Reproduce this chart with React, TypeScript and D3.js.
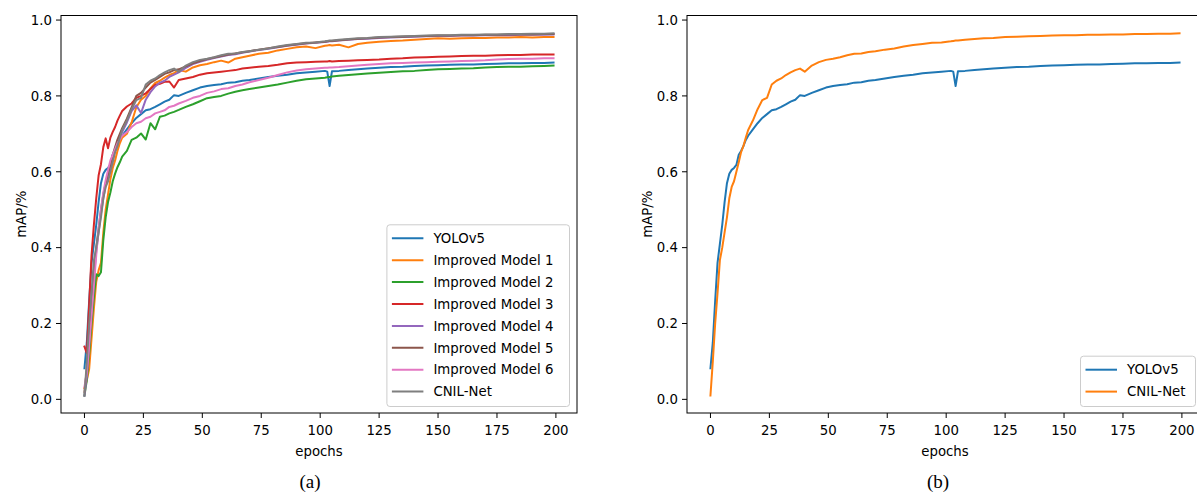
import React from 'react';
import * as d3 from 'd3';

// epochs where the curves were sampled
const epochs = [0, 1, 2, 3, 4, 5, 6, 7, 8, 9, 10, 11, 12, 13, 14, 15, 16, 18, 20, 22,
  24, 26, 28, 30, 32, 34, 36, 38, 40, 43, 46, 49, 52, 55, 58, 61, 64, 67, 70, 74,
  78, 82, 86, 90, 94, 98, 102, 103, 104, 105, 108, 112, 116, 120, 125, 130, 135, 140, 145, 150,
  155, 160, 165, 170, 175, 180, 185, 190, 195, 199];

const yolov5 = [0.082, 0.15, 0.26, 0.36, 0.41, 0.46, 0.52, 0.57, 0.595, 0.605,
  0.61, 0.618, 0.645, 0.655, 0.668, 0.684, 0.695, 0.712, 0.728, 0.742,
  0.752, 0.762, 0.765, 0.771, 0.778, 0.785, 0.79, 0.802, 0.8, 0.808,
  0.815, 0.822, 0.826, 0.829, 0.831, 0.835, 0.836, 0.84, 0.842, 0.846,
  0.85, 0.853, 0.856, 0.86, 0.862, 0.864, 0.866, 0.864, 0.826, 0.865,
  0.866, 0.868, 0.87, 0.872, 0.874, 0.876, 0.877, 0.879, 0.88, 0.881,
  0.882, 0.883, 0.883, 0.884, 0.885, 0.886, 0.886, 0.887, 0.887, 0.888];

const model1 = [0.03, 0.05, 0.08, 0.16, 0.24, 0.31, 0.34, 0.36, 0.44, 0.5,
  0.54, 0.58, 0.61, 0.63, 0.655, 0.675, 0.69, 0.7, 0.73, 0.77,
  0.79, 0.8, 0.82, 0.834, 0.84, 0.848, 0.855, 0.86, 0.868, 0.864,
  0.875, 0.881, 0.884, 0.889, 0.893, 0.888, 0.898, 0.902, 0.906, 0.911,
  0.914, 0.92, 0.924, 0.928, 0.93, 0.926, 0.932, 0.933, 0.934, 0.933,
  0.935, 0.928, 0.937, 0.94, 0.943, 0.945, 0.946, 0.948, 0.95, 0.952,
  0.951, 0.952, 0.953, 0.953, 0.954, 0.954, 0.955, 0.954, 0.955, 0.955];

const model2 = [0.01, 0.05, 0.12, 0.2, 0.27, 0.33, 0.325, 0.335, 0.42, 0.48,
  0.52, 0.545, 0.575, 0.595, 0.612, 0.625, 0.64, 0.655, 0.684, 0.69,
  0.701, 0.685, 0.728, 0.712, 0.745, 0.748, 0.754, 0.758, 0.763, 0.771,
  0.778, 0.786, 0.794, 0.797, 0.8, 0.806, 0.811, 0.815, 0.818, 0.822,
  0.826, 0.83, 0.835, 0.84, 0.844, 0.846, 0.848, 0.849, 0.85, 0.851,
  0.853, 0.855, 0.857, 0.859, 0.861, 0.863, 0.865, 0.866, 0.868, 0.87,
  0.871, 0.872, 0.873, 0.875, 0.876, 0.877, 0.877, 0.878, 0.879, 0.88];

const model3 = [0.139, 0.122, 0.25, 0.38, 0.46, 0.53, 0.59, 0.62, 0.665, 0.688,
  0.662, 0.69, 0.705, 0.718, 0.735, 0.748, 0.76, 0.772, 0.78, 0.795,
  0.8, 0.807, 0.818, 0.829, 0.832, 0.837, 0.838, 0.822, 0.842, 0.846,
  0.85, 0.856, 0.86, 0.862, 0.864, 0.866, 0.868, 0.872, 0.874, 0.877,
  0.879, 0.882, 0.886, 0.888, 0.889, 0.89, 0.891, 0.891, 0.892, 0.891,
  0.892, 0.893, 0.894, 0.895, 0.896, 0.898, 0.899, 0.901, 0.902, 0.903,
  0.904, 0.905, 0.906, 0.906, 0.907, 0.908, 0.908, 0.909, 0.909, 0.909];

const model4 = [0.01, 0.06, 0.15, 0.24, 0.32, 0.39, 0.44, 0.49, 0.53, 0.565,
  0.59, 0.615, 0.635, 0.655, 0.675, 0.69, 0.705, 0.73, 0.76, 0.775,
  0.755, 0.79, 0.81, 0.825, 0.835, 0.84, 0.85, 0.856, 0.862, 0.874,
  0.884, 0.89, 0.895, 0.9, 0.904, 0.908, 0.91, 0.914, 0.917, 0.921,
  0.924, 0.928, 0.932, 0.935, 0.938, 0.94, 0.942, 0.943, 0.944, 0.944,
  0.946, 0.948, 0.95, 0.951, 0.953, 0.954, 0.955, 0.956, 0.957, 0.958,
  0.958, 0.959, 0.959, 0.96, 0.96, 0.96, 0.961, 0.961, 0.961, 0.962];

const model5 = [0.02, 0.08, 0.17, 0.26, 0.34, 0.4, 0.45, 0.5, 0.54, 0.57,
  0.595, 0.62, 0.645, 0.665, 0.685, 0.7, 0.715, 0.74, 0.77, 0.8,
  0.808, 0.822, 0.835, 0.842, 0.85, 0.858, 0.862, 0.868, 0.87, 0.878,
  0.886, 0.892, 0.897, 0.901, 0.905, 0.909, 0.912, 0.915, 0.918, 0.922,
  0.926, 0.929, 0.933, 0.936, 0.939, 0.941, 0.943, 0.944, 0.945, 0.945,
  0.947, 0.949, 0.951, 0.952, 0.954, 0.955, 0.956, 0.957, 0.958, 0.959,
  0.959, 0.96, 0.96, 0.961, 0.961, 0.962, 0.962, 0.962, 0.963, 0.963];

const model6 = [0.033, 0.07, 0.14, 0.22, 0.3, 0.38, 0.45, 0.5, 0.545, 0.578,
  0.605, 0.63, 0.645, 0.66, 0.675, 0.685, 0.695, 0.705, 0.718, 0.728,
  0.732, 0.741, 0.745, 0.754, 0.758, 0.762, 0.771, 0.774, 0.78, 0.787,
  0.795, 0.8, 0.808, 0.812, 0.818, 0.82, 0.826, 0.83, 0.836, 0.842,
  0.848, 0.855, 0.862, 0.867, 0.87, 0.872, 0.874, 0.874, 0.875, 0.875,
  0.876, 0.878, 0.88, 0.882, 0.884, 0.886, 0.887, 0.888, 0.889, 0.89,
  0.891, 0.892, 0.893, 0.894, 0.896, 0.897, 0.898, 0.898, 0.899, 0.899];

const cnilNet = [0.01, 0.1, 0.2, 0.28, 0.367, 0.4, 0.44, 0.48, 0.53, 0.56,
  0.575, 0.6, 0.625, 0.652, 0.668, 0.69, 0.71, 0.735, 0.765, 0.789,
  0.795, 0.83, 0.84, 0.846, 0.855, 0.862, 0.868, 0.872, 0.864, 0.88,
  0.889, 0.895, 0.898, 0.902, 0.907, 0.911, 0.912, 0.916, 0.918, 0.922,
  0.925, 0.93, 0.934, 0.937, 0.94, 0.941, 0.944, 0.945, 0.946, 0.946,
  0.948, 0.95, 0.952, 0.953, 0.955, 0.956, 0.957, 0.958, 0.959, 0.96,
  0.96, 0.961, 0.961, 0.962, 0.962, 0.963, 0.963, 0.964, 0.964, 0.965];

const xTicks = [0, 25, 50, 75, 100, 125, 150, 175, 200];
const yTicks = [0.0, 0.2, 0.4, 0.6, 0.8, 1.0];

const seriesA = [
  { name: 'YOLOv5', color: '#1f77b4', values: yolov5 },
  { name: 'Improved Model 1', color: '#ff7f0e', values: model1 },
  { name: 'Improved Model 2', color: '#2ca02c', values: model2 },
  { name: 'Improved Model 3', color: '#d62728', values: model3 },
  { name: 'Improved Model 4', color: '#9467bd', values: model4 },
  { name: 'Improved Model 5', color: '#8c564b', values: model5 },
  { name: 'Improved Model 6', color: '#e377c2', values: model6 },
  { name: 'CNIL-Net', color: '#7f7f7f', values: cnilNet },
];

const seriesB = [
  { name: 'YOLOv5', color: '#1f77b4', values: yolov5 },
  { name: 'CNIL-Net', color: '#ff7f0e', values: cnilNet },
];

const FONT = '"DejaVu Sans", sans-serif';

function Panel({ id, left, right, top, bottom, series, legendWidth, caption }) {
  const x = d3.scaleLinear().domain([-9.95, 208.95]).range([left, right]);
  const y = d3.scaleLinear().domain([-0.036, 1.012]).range([bottom, top]);
  const line = d3.line<number>()
    .x((_, i) => x(epochs[i]))
    .y(d => y(d));
  const fmt = d3.format('.1f');

  const rowH = 21.9;
  const legRight = right - 7.5;
  const legBottom = bottom - 6.5;
  const legH = series.length * rowH + 6.5;
  const legTop = legBottom - legH;
  const legLeft = legRight - legendWidth;

  return (
    <g>
      <defs>
        <clipPath id={`clip-${id}`}>
          <rect x={left} y={top} width={right - left} height={bottom - top} />
        </clipPath>
      </defs>
      <g clipPath={`url(#clip-${id})`}>
        {series.map(s => (
          <path key={s.name} d={line(s.values) || ''} fill="none" stroke={s.color}
            strokeWidth={2} strokeLinejoin="round" strokeLinecap="square" />
        ))}
      </g>
      <rect x={left} y={top} width={right - left} height={bottom - top}
        fill="none" stroke="#000" strokeWidth={1} />
      {xTicks.map(t => (
        <g key={t}>
          <line x1={x(t)} x2={x(t)} y1={bottom} y2={bottom + 5} stroke="#000" strokeWidth={1} />
          <text x={x(t)} y={bottom + 22} textAnchor="middle" fontSize={13.3}
            fontFamily={FONT} fill="#000">{t}</text>
        </g>
      ))}
      {yTicks.map(t => (
        <g key={t}>
          <line x1={left - 5} x2={left} y1={y(t)} y2={y(t)} stroke="#000" strokeWidth={1} />
          <text x={left - 9} y={y(t)} dy="0.36em" textAnchor="end" fontSize={13.3}
            fontFamily={FONT} fill="#000">{fmt(t)}</text>
        </g>
      ))}
      <text x={(left + right) / 2} y={bottom + 43} textAnchor="middle" fontSize={13.3}
        fontFamily={FONT} fill="#000">epochs</text>
      <text transform={`translate(${left - 40},${(top + bottom) / 2}) rotate(-90)`}
        textAnchor="middle" dy="0.35em" fontSize={13.3} fontFamily={FONT} fill="#000">mAP/%</text>
      <text x={caption.x} y={bottom + 75} textAnchor="middle" fontSize={19}
        fontFamily='"Liberation Serif", "Times New Roman", serif' fill="#000">{caption.text}</text>
      <g>
        <rect x={legLeft} y={legTop} width={legendWidth} height={legH} rx={3} ry={3}
          fill="#fff" fillOpacity={0.8} stroke="#cccccc" strokeWidth={1} />
        {series.map((s, i) => {
          const cy = legTop + 13.5 + i * rowH;
          return (
            <g key={s.name}>
              <line x1={legLeft + 5} x2={legLeft + 36.5} y1={cy} y2={cy}
                stroke={s.color} strokeWidth={2} />
              <text x={legLeft + 46.5} y={cy} dy="0.36em" fontSize={13.3}
                fontFamily={FONT} fill="#000">{s.name}</text>
            </g>
          );
        })}
      </g>
    </g>
  );
}

export default function App() {
  return (
    <svg width={1197} height={493} viewBox="0 0 1197 493"
      style={{ position: 'absolute', left: 0, top: 0, background: '#fff' }}>
      <rect x={0} y={0} width={1197} height={493} fill="#fff" />
      <Panel id="a" left={61} right={577} top={15.5} bottom={413} series={seriesA}
        legendWidth={182.6} caption={{ text: '(a)', x: 310 }} />
      <Panel id="b" left={687} right={1203} top={15.5} bottom={413} series={seriesB}
        legendWidth={115} caption={{ text: '(b)', x: 938 }} />
    </svg>
  );
}
